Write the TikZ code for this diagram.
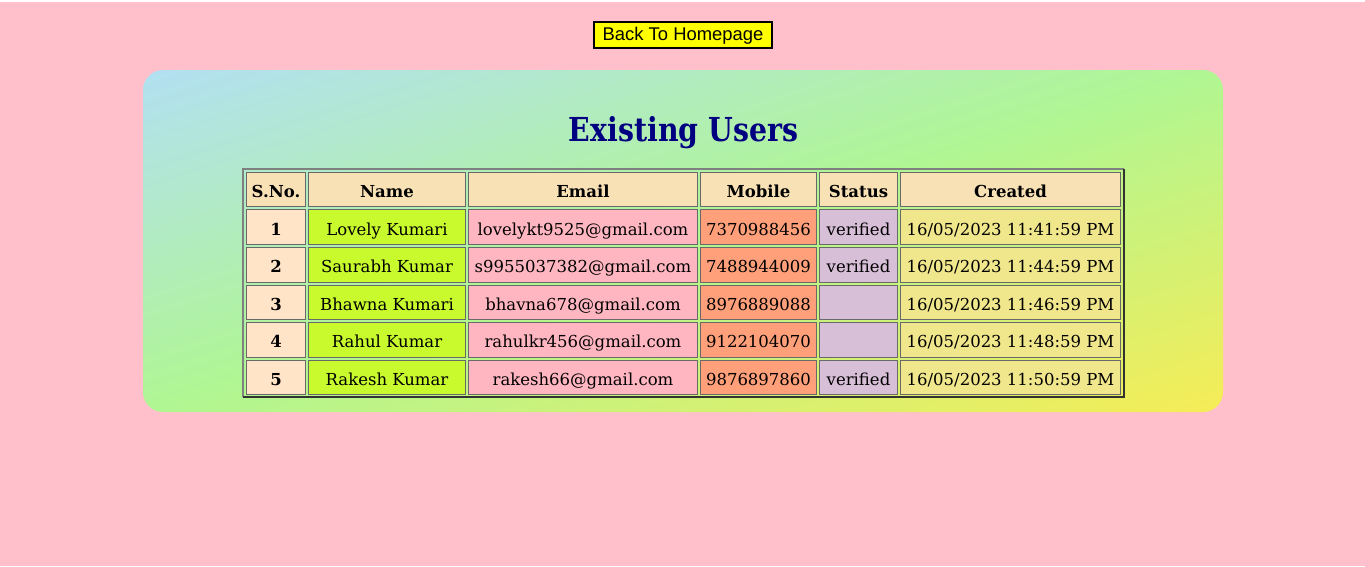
\documentclass[tikz,border=0pt]{standalone}
\usepackage{fontspec}
\setmainfont{DejaVu Serif}
\newfontfamily\btnfont{Liberation Sans}
\newfontfamily\titlefont[FakeStretch=0.86]{DejaVu Serif}
\definecolor{pagepink}{RGB}{255,192,203}
\definecolor{panelA}{RGB}{178,224,242}
\definecolor{panelB}{RGB}{176,246,146}
\definecolor{panelC}{RGB}{246,236,86}
\definecolor{headfill}{RGB}{249,225,182}
\definecolor{snofill}{RGB}{255,228,200}
\definecolor{namefill}{RGB}{200,250,45}
\definecolor{mailfill}{RGB}{255,182,193}
\definecolor{mobfill}{RGB}{255,160,122}
\definecolor{statfill}{RGB}{216,191,216}
\definecolor{crefill}{RGB}{240,230,140}
\definecolor{cellgray}{RGB}{105,105,105}
\definecolor{framelight}{RGB}{128,128,128}
\definecolor{framedark}{RGB}{50,50,50}
\definecolor{titleblue}{RGB}{0,0,128}
\definecolor{btnyellow}{RGB}{255,255,0}
\pgfdeclarehorizontalshading{panelshade}{100bp}{color(0bp)=(panelA); color(14.6bp)=(panelA); color(50bp)=(panelB); color(85.4bp)=(panelC); color(100bp)=(panelC)}
\begin{document}
\begin{tikzpicture}[x=1pt,y=-1pt,
  cell/.style={draw=cellgray, line width=1pt, inner sep=0pt, outer sep=0pt,
    text height=15.6pt, text depth=0pt, minimum height=34.6pt,
    font=\fontsize{16.5}{20}\selectfont},
  head/.style={cell, fill=headfill, font=\fontsize{16.5}{20}\selectfont\bfseries},
  colA/.style={minimum width=59pt},
  colB/.style={minimum width=157pt},
  colC/.style={minimum width=229pt},
  colD/.style={minimum width=116pt},
  colE/.style={minimum width=78pt},
  colF/.style={minimum width=220pt},
  sno/.style={cell, colA, fill=snofill, font=\fontsize{16.5}{20}\selectfont\bfseries},
  uname/.style={cell, colB, fill=namefill},
  umail/.style={cell, colC, fill=mailfill},
  umob/.style={cell, colD, fill=mobfill},
  ustat/.style={cell, colE, fill=statfill},
  ucre/.style={cell, colF, fill=crefill},
  frame/.style={inner sep=0pt, outer sep=0pt, minimum width=881pt, minimum height=228pt},
  btnbox/.style={draw=black, line width=2pt, fill=btnyellow, inner sep=0pt,
    minimum width=178pt, minimum height=26pt, text height=11.4pt, text depth=0pt,
    font=\btnfont\fontsize{18.4}{22}\selectfont},
  titletext/.style={anchor=base, inner sep=0pt, text=titleblue, font=\titlefont\bfseries\fontsize{33}{40}\selectfont}
]
\useasboundingbox (0,0) rectangle (1365,566);
\fill[white] (0,0) rectangle (1365,2);
\fill[pagepink] (0,2) rectangle (1365,566);
\begin{scope}
  \clip[rounded corners=20pt] (143,70) rectangle (1223,412);
  \begin{scope}[transform canvas={shift={(683,241)}, xscale=3.158}]
    \shade[shading=panelshade, shading angle=-45] (-171,-171) rectangle (171,171);
  \end{scope}
\end{scope}

\node[btnbox] (btn) at (683,35) {Back To Homepage};
\node[titletext] (title) at (683.5,141) {Existing Users};

\node[frame] (tbl) at (683.5,283) {};
\draw[framelight, line width=2pt] (tbl.south west) -- (tbl.north west) -- (tbl.north east);
\draw[framedark, line width=2pt] (tbl.north east) -- (tbl.south east) -- (tbl.south west);

% header
\node[head, colA] (h1) at (276,189.6) {S.No.};
\node[head, colB] (h2) at (387,189.6) {Name};
\node[head, colC] (h3) at (583,189.6) {Email};
\node[head, colD] (h4) at (758.5,189.6) {Mobile};
\node[head, colE] (h5) at (858.5,189.6) {Status};
\node[head, colF] (h6) at (1010.5,189.6) {Created};

% row 1
\node[sno]   (a1) at (276,227.2) {1};
\node[uname] (b1) at (387,227.2) {Lovely Kumari};
\node[umail] (c1) at (583,227.2) {lovelykt9525@gmail.com};
\node[umob]  (d1) at (758.5,227.2) {7370988456};
\node[ustat] (e1) at (858.5,227.2) {verified};
\node[ucre]  (f1) at (1010.5,227.2) {16/05/2023 11:41:59 PM};
% row 2
\node[sno]   (a2) at (276,264.8) {2};
\node[uname] (b2) at (387,264.8) {Saurabh Kumar};
\node[umail] (c2) at (583,264.8) {s9955037382@gmail.com};
\node[umob]  (d2) at (758.5,264.8) {7488944009};
\node[ustat] (e2) at (858.5,264.8) {verified};
\node[ucre]  (f2) at (1010.5,264.8) {16/05/2023 11:44:59 PM};
% row 3
\node[sno]   (a3) at (276,302.4) {3};
\node[uname] (b3) at (387,302.4) {Bhawna Kumari};
\node[umail] (c3) at (583,302.4) {bhavna678@gmail.com};
\node[umob]  (d3) at (758.5,302.4) {8976889088};
\node[ustat] (e3) at (858.5,302.4) {};
\node[ucre]  (f3) at (1010.5,302.4) {16/05/2023 11:46:59 PM};
% row 4
\node[sno]   (a4) at (276,340.0) {4};
\node[uname] (b4) at (387,340.0) {Rahul Kumar};
\node[umail] (c4) at (583,340.0) {rahulkr456@gmail.com};
\node[umob]  (d4) at (758.5,340.0) {9122104070};
\node[ustat] (e4) at (858.5,340.0) {};
\node[ucre]  (f4) at (1010.5,340.0) {16/05/2023 11:48:59 PM};
% row 5
\node[sno]   (a5) at (276,377.6) {5};
\node[uname] (b5) at (387,377.6) {Rakesh Kumar};
\node[umail] (c5) at (583,377.6) {rakesh66@gmail.com};
\node[umob]  (d5) at (758.5,377.6) {9876897860};
\node[ustat] (e5) at (858.5,377.6) {verified};
\node[ucre]  (f5) at (1010.5,377.6) {16/05/2023 11:50:59 PM};
\end{tikzpicture}
\end{document}
